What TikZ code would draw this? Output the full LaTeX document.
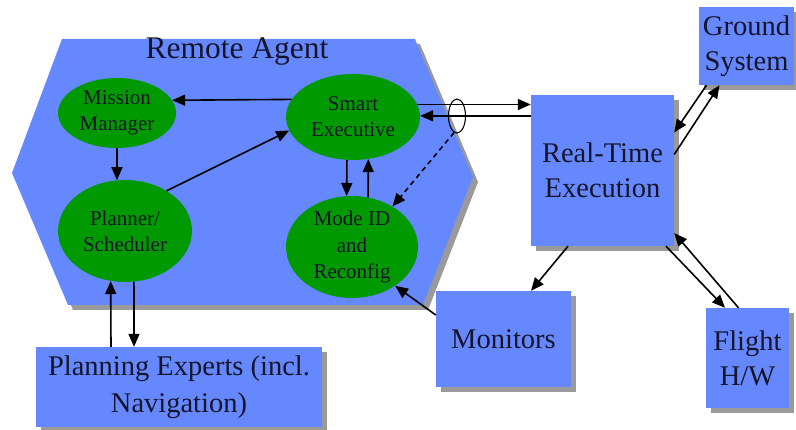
\documentclass[tikz,border=0pt]{standalone}
\usepackage{fontspec}
\setmainfont{Liberation Serif}
\usetikzlibrary{shapes.geometric,arrows.meta,shadows}

\definecolor{rablue}{HTML}{6688FF}
\definecolor{ragreen}{HTML}{009A00}
\definecolor{shadowgray}{HTML}{9A9A9A}
\definecolor{inkdark}{HTML}{15152A}

\tikzset{
  box/.style={rectangle, fill=rablue, inner sep=0pt, align=center, text=inkdark,
    font=\fontsize{28.5}{35}\selectfont,
    drop shadow={shadow xshift=5pt, shadow yshift=-5pt, fill=shadowgray, opacity=1}},
  module/.style={ellipse, fill=ragreen, inner sep=0pt, align=center, text=inkdark,
    font=\fontsize{21}{26}\selectfont},
  link/.style={line width=1.6pt, -{Triangle[length=13pt,width=11pt]}},
  dashedlink/.style={link, dash pattern=on 5pt off 4pt},
}

\begin{document}
\begin{tikzpicture}[x=1pt, y=-1pt]
\useasboundingbox (0,0) rectangle (796,430);

% Remote Agent hexagon with its shadow
\fill[shadowgray, shift={(5,5)}]
  (62,39) -- (415,39) -- (473,177) -- (423,305) -- (68,305) -- (12,173) -- cycle;
\fill[rablue]
  (62,39) -- (415,39) -- (473,177) -- (423,305) -- (68,305) -- (12,173) -- cycle;
\node[font=\fontsize{31.5}{36}\selectfont, text=inkdark] (ratitle) at (237,52) {Remote Agent};

% Remote Agent modules
\node[module, minimum width=118pt, minimum height=70pt] (mm) at (117,113) {Mission\\Manager};
\node[module, minimum width=134pt, minimum height=86pt] (se) at (353,117) {Smart\\Executive};
\node[module, minimum width=134pt, minimum height=102pt] (ps) at (125,231) {Planner/\\Scheduler};
\node[module, minimum width=132pt, minimum height=100pt, font=\fontsize{21}{26.5}\selectfont] (mi) at (352,247) {Mode ID\\and\\Reconfig};

% External systems
\node[box, minimum width=143pt, minimum height=151pt] (rte) at (602.5,170.5) {Real-Time\\Execution};
\node[box, minimum width=95pt, minimum height=78pt] (gs) at (746.5,46) {Ground\\System};
\node[box, minimum width=83pt, minimum height=100pt] (fl) at (747.5,358) {Flight\\H/W};
\node[box, minimum width=135pt, minimum height=96pt] (mon) at (503.5,339) {Monitors};
\node[box, minimum width=286pt, minimum height=80pt, font=\fontsize{28.5}{37}\selectfont] (pe) at (179,387) {Planning Experts (incl.\\Navigation)};

% Bundle ring on the executive links
\node[ellipse, draw=black, line width=1.1pt, minimum width=17pt, minimum height=34pt, inner sep=0pt] (ring) at (457,116) {};

% Links inside the agent
\draw[link] (se.164.5) -- (mm.13.3);
\draw[link] (mm.south) -- (ps.99);
\draw[link] (ps.44) -- (se.192.5);
\draw[link] (se.262) -- (mi.96);
\draw[link] (mi.72) -- (se.290);

% Executive <-> real-time execution
\draw[link] (se.11.5) -- (se.11.5 -| rte.west);
\draw[link] (se.1 -| rte.west) -- (se.1);
\draw[dashedlink] (ring.-100) -- (mi.45);

% Monitoring and real-time links
\draw[link] ([yshift=24pt]mon.west) -- (mi.-42);
\draw[link] ([xshift=-34.5pt]rte.south) -- ([xshift=27.5pt]mon.north);
\draw[link] ([xshift=-40pt]gs.south) -- ([yshift=38pt]rte.east);
\draw[link] ([yshift=16pt]rte.east) -- ([xshift=-27pt]gs.south);
\draw[link] ([xshift=63.5pt]rte.south) -- ([xshift=-22.5pt]fl.north);
\draw[link] ([xshift=-9pt]fl.north) -- ([yshift=-62.5pt]rte.east);

% Planner <-> planning experts
\draw[link] ([xshift=-68pt]pe.north) -- (ps.254);
\draw[link] (ps.280) -- ([xshift=-45pt]pe.north);
\end{tikzpicture}
\end{document}
